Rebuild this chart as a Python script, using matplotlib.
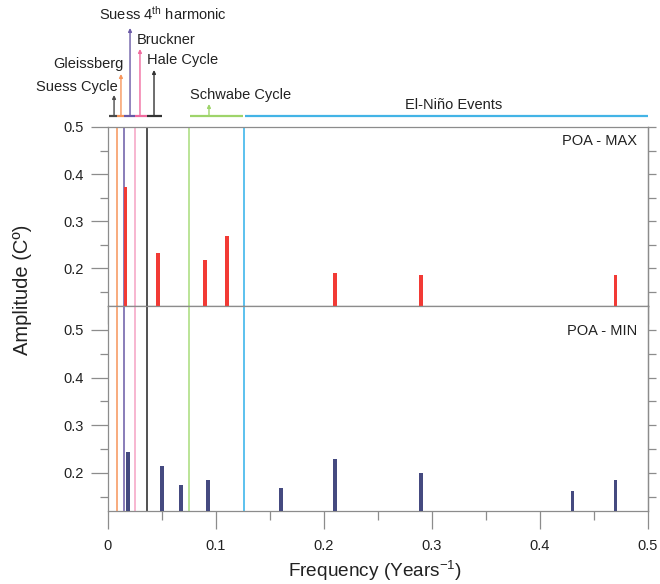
import matplotlib
matplotlib.use('Agg')
import matplotlib.pyplot as pl
from matplotlib.ticker import MultipleLocator

pl.rcParams['font.family'] = ['Liberation Sans', 'DejaVu Sans']
pl.rcParams['mathtext.fontset'] = 'custom'
pl.rcParams['mathtext.rm'] = 'Liberation Sans'
pl.rcParams['mathtext.it'] = 'Liberation Sans'

# spectral peaks
max_freq = [0.0163, 0.046, 0.090, 0.110, 0.210, 0.290, 0.470]
max_amp = [0.372, 0.233, 0.218, 0.268, 0.190, 0.186, 0.186]
min_freq = [0.0185, 0.050, 0.0676, 0.0926, 0.160, 0.210, 0.290, 0.430, 0.470]
min_amp = [0.243, 0.215, 0.175, 0.186, 0.169, 0.230, 0.199, 0.163, 0.185]

# cycle bands shown above the plot
cycle_names = ['Suess Cycle', 'Gleissberg', 'Suess 4$^{th}$ harmonic', 'Bruckner',
               'Hale Cycle', 'Schwabe Cycle', 'El-Niño Events']
band_start = [0.001, 0.0083, 0.0148, 0.025, 0.036, 0.076, 0.127]
band_end = [0.0083, 0.0148, 0.025, 0.036, 0.050, 0.125, 0.5]
cycle_freq = [0.0056, 0.012, 0.0204, 0.0296, 0.0426, 0.0935, None]
cycle_colors = ['#4a4a4a', '#f7955a', '#6a5aa6', '#f06a9e', '#333333', '#9ed46a', '#43b4e6']

# vertical boundary lines through both panels
bound_freq = [0.0083, 0.0148, 0.025, 0.036, 0.075, 0.126]
bound_colors = ['#f7955a', '#6a5aa6', '#f5a3c3', '#222222', '#a8dc7a', '#2fb0ea']

W, H = 660, 584
grey = '#8c8c8c'


def box(l, t, r, b):
    return [l / W, 1 - b / H, (r - l) / W, (b - t) / H]


fig = pl.figure(figsize=(W / 100, H / 100), dpi=100)
ax1 = fig.add_axes(box(108, 127, 648, 306))
ax2 = fig.add_axes(box(108, 306, 648, 511))
axa = fig.add_axes(box(108, 0, 648, 127))

for ax, fr, am, col, lo, hi in [(ax1, max_freq, max_amp, '#f23a35', 0.12, 0.5),
                                (ax2, min_freq, min_amp, '#454a80', 0.12, 0.55)]:
    ax.set_xlim(0, 0.5)
    ax.set_ylim(lo, hi)
    for xv, c in zip(bound_freq, bound_colors):
        ax.axvline(xv, color=c, lw=1.1, zorder=1)
    ax.bar(fr, [a - lo for a in am], bottom=lo, width=0.0034, color=col, zorder=3)
    for s in ax.spines.values():
        s.set_color(grey)
        s.set_linewidth(0.9)
    ax.xaxis.set_major_locator(MultipleLocator(0.1))
    ax.xaxis.set_minor_locator(MultipleLocator(0.05))
    ax.set_yticks([0.2, 0.3, 0.4, 0.5])
    ax.set_yticks([0.15, 0.25, 0.35, 0.45], minor=True)
    ax.tick_params(axis='y', which='major', length=12.5, width=0.9, color=grey, pad=5,
                   labelsize=10.5, labelcolor='#222222')
    ax.tick_params(axis='y', which='minor', length=5.5, width=0.9, color=grey)
    ax.tick_params(axis='x', which='major', length=13, width=0.9, color=grey, pad=7,
                   labelsize=10.5, labelcolor='#222222')
    ax.tick_params(axis='x', which='minor', length=6.5, width=0.9, color=grey)
    sec = ax.secondary_yaxis('right')
    sec.set_yticks([0.15, 0.2, 0.25, 0.3, 0.35, 0.4, 0.45, 0.5])
    sec.tick_params(length=6, width=0.9, color=grey, labelright=False)
    sec.spines['right'].set_color(grey)
    sec.spines['right'].set_linewidth(0.9)

ax1.tick_params(axis='x', labelbottom=False)
ax1.spines['bottom'].set_color('#555555')
ax2.set_xticks([0, 0.1, 0.2, 0.3, 0.4, 0.5])
ax2.set_xticklabels(['0', '0.1', '0.2', '0.3', '0.4', '0.5'])

ax1.text(0.98, 0.92, 'POA - MAX', transform=ax1.transAxes, ha='right', va='center',
         fontsize=10.5, color='#222222')
ax2.text(0.98, 0.88, 'POA - MIN', transform=ax2.transAxes, ha='right', va='center',
         fontsize=10.5, color='#222222')

fig.text(23 / W, 1 - 290 / H, 'Amplitude (Cº)', rotation=90, ha='center', va='center',
         fontsize=14.5, color='#222222')
fig.text(375 / W, 1 - 583 / H, 'Frequency (Years$^{-1}$)', ha='center', va='bottom',
         fontsize=13.7, color='#222222')

# annotation strip: y in pixel rows
axa.set_xlim(0, 0.5)
axa.set_ylim(127, 0)
axa.axis('off')
stem_top = [95, 74, 28, 49, 70, 104, None]
label_pos = [(0.0093, 94, 'right'), (0.0148, 71, 'right'), (-0.008, 23, 'left'),
             (0.027, 47, 'left'), (0.036, 67, 'left'), (0.076, 102, 'left'),
             (0.275, 112, 'left')]
for i in range(len(cycle_names)):
    c = cycle_colors[i]
    axa.plot([band_start[i], band_end[i]], [116, 116], color=c, lw=1.6,
             solid_capstyle='butt')
    if cycle_freq[i] is not None:
        axa.annotate('', xy=(cycle_freq[i], stem_top[i]), xytext=(cycle_freq[i], 116),
                     arrowprops=dict(arrowstyle='-|>', color=c, lw=1.0,
                                     mutation_scale=5, shrinkA=0, shrinkB=0))
    lx, ly, ha = label_pos[i]
    axa.text(lx, ly, cycle_names[i], ha=ha, va='bottom', fontsize=10.5, color='#222222')

fig.savefig('out.png', dpi=100)
